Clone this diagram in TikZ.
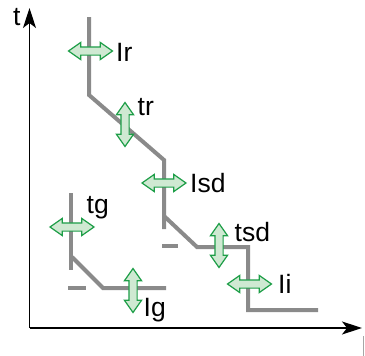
\documentclass[tikz,border=0pt]{standalone}
\usepackage{fontspec}
\setmainfont{Liberation Sans}
\usetikzlibrary{arrows.meta,shapes.arrows}
\definecolor{curvegray}{HTML}{8A8A8A}
\definecolor{arrgreen}{HTML}{1E9E48}
\definecolor{arrfill}{HTML}{CFE9D2}
\tikzset{
  axis/.style={line width=1.4pt, -{Stealth[length=20pt,width=13pt,inset=5pt]}},
  curve/.style={curvegray, line width=4pt},
  dblarrow/.style={double arrow, draw=arrgreen, fill=arrfill, line width=1.2pt,
    minimum height=44pt, minimum width=16pt, inner xsep=0pt, inner ysep=3.5pt,
    double arrow head extend=4.5pt, double arrow tip angle=70, anchor=center},
  lbl/.style={font=\fontsize{26.5}{26.5}\selectfont, inner sep=0pt, anchor=base west}
}
\begin{document}
\begin{tikzpicture}[x=1pt,y=-1pt]
\useasboundingbox (0,0) rectangle (365,356);
% axes
\coordinate (o) at (29.5,328);
\coordinate (ty) at (29.5,8);
\coordinate (tx) at (362,328);
\draw[axis] (o) -- (ty);
\draw[axis] (o) -- (tx);
\node[lbl] (t) at (13,26) {t};
\draw[gray!70, line width=0.8pt] (363.5,336) -- (363.5,356);
% main curve
\draw[curve] (89,17) -- (89,95) -- (164,160) -- (164,229);
\draw[curve] (164,216) -- (197,247) -- (248,247) -- (248,310) -- (318,310);
\draw[curve] (162,246) -- (178,246);
% ground curve
\draw[curve] (71,193) -- (71,270);
\draw[curve] (72,257) -- (103,288) -- (166,288);
\draw[curve] (68,288) -- (86,288);
% arrows
\node[dblarrow] (aIr) at (90.5,51) {};
\node[dblarrow, rotate=90] (atr) at (125,124.5) {};
\node[dblarrow] (aIsd) at (164,183) {};
\node[dblarrow, rotate=90] (atsd) at (219,245.5) {};
\node[dblarrow] (aIi) at (249.5,284) {};
\node[dblarrow] (atg) at (72,227) {};
\node[dblarrow, rotate=90] (aIg) at (133,290.5) {};
% labels
\node[lbl] (lIr) at (116,61.5) {Ir};
\node[lbl] (ltr) at (137.5,115) {tr};
\node[lbl] (lIsd) at (190,192.5) {Isd};
\node[lbl] (ltsd) at (234.5,241) {tsd};
\node[lbl] (lIi) at (278,293) {Ii};
\node[lbl] (ltg) at (86.5,213) {tg};
\node[lbl] (lIg) at (143.5,316) {Ig};
\end{tikzpicture}
\end{document}
